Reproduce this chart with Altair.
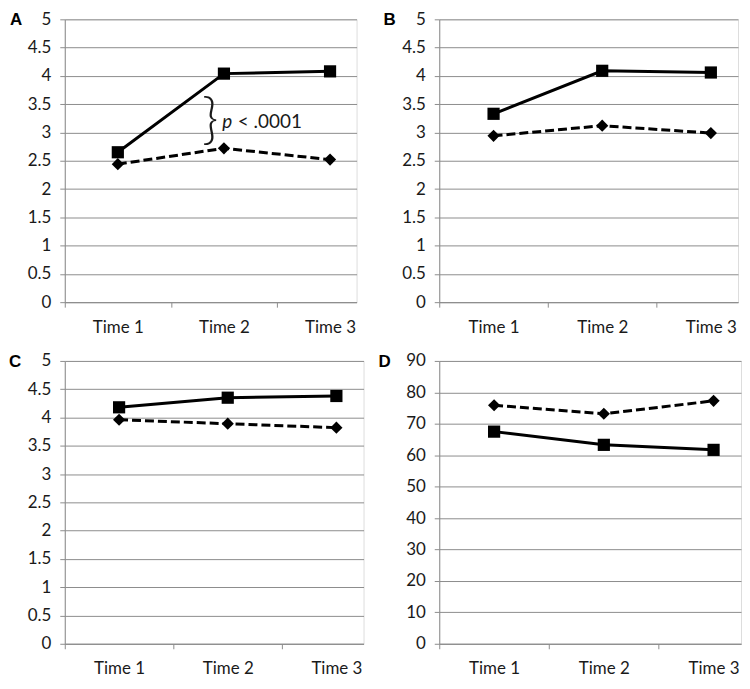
import altair as alt
import pandas as pd

# ---- data ----
times = [1, 2, 3]  # Time 1, Time 2, Time 3

A_square = [2.65, 4.04, 4.08]
A_diamond = [2.44, 2.72, 2.52]
B_square = [3.33, 4.09, 4.06]
B_diamond = [2.94, 3.12, 2.99]
C_square = [4.18, 4.35, 4.38]
C_diamond = [3.96, 3.89, 3.82]
D_square = [67.5, 63.3, 61.7]
D_diamond = [75.9, 73.2, 77.3]

ticks_5 = [0, 0.5, 1, 1.5, 2, 2.5, 3, 3.5, 4, 4.5, 5]
ticks_90 = [0, 10, 20, 30, 40, 50, 60, 70, 80, 90]
x_tick_pos = [0.5, 1.5, 2.5]

# annotation in panel A
annot_brace = {"x": 1.87, "y": 3.21, "t": "}"}
annot_p = {"x": 1.985, "y": 3.19, "t": "p"}
annot_rest = {"x": 2.13, "y": 3.19, "t": "< .0001"}

GRAY = "#8c8c8c"
TXT = "#1a1a1a"
FONT = "Lato"
XMAX = 3.25


def panel(letter, letter_dx, sq, di, ymax, yticks, width, height, annot=False):
    df = pd.DataFrame({
        "x": times * 2,
        "y": sq + di,
        "series": ["square"] * 3 + ["diamond"] * 3,
    })
    band = width / (XMAX - 0.5)
    xscale = alt.Scale(domain=[0.5, XMAX], nice=False, zero=False)
    yscale = alt.Scale(domain=[0, ymax], nice=False, zero=True)
    xaxis = alt.Axis(
        values=x_tick_pos,
        labelExpr="'Time ' + (datum.value + 0.5)",
        labelOffset=band / 2,
        labelFlush=False,
        labelOverlap=False,
        tickSize=5,
        tickColor=GRAY,
        domainColor=GRAY,
        grid=False,
        title=None,
        labelFont=FONT,
        labelFontSize=17,
        labelColor=TXT,
        labelPadding=12,
    )
    yaxis = alt.Axis(
        values=yticks,
        format="~f",
        tickSize=5,
        tickColor=GRAY,
        domainColor=GRAY,
        grid=True,
        gridColor=GRAY,
        gridWidth=1,
        title=None,
        labelFont=FONT,
        labelFontSize=17,
        labelColor=TXT,
        labelPadding=9,
        labelFlush=False,
        labelOverlap=False,
    )
    X = alt.X("x:Q", scale=xscale, axis=xaxis)
    Y = alt.Y("y:Q", scale=yscale, axis=yaxis)
    base = alt.Chart(df).encode(x=X, y=Y)
    solid = base.transform_filter(alt.datum.series == "square").mark_line(
        color="black", strokeWidth=3
    )
    dashed = base.transform_filter(alt.datum.series == "diamond").mark_line(
        color="black", strokeWidth=3, strokeDash=[9, 4]
    )
    squares = base.transform_filter(alt.datum.series == "square").mark_point(
        shape="square", filled=True, color="black", opacity=1, size=150
    )
    diamonds = base.transform_filter(alt.datum.series == "diamond").mark_point(
        shape="diamond", filled=True, color="black", opacity=1, size=150
    )
    lab = alt.Chart(pd.DataFrame({"t": [letter]})).mark_text(
        align="left", baseline="middle", font="Liberation Sans",
        fontWeight="bold", fontSize=17, color="black"
    ).encode(text="t:N", x=alt.value(letter_dx), y=alt.value(1))
    layers = [solid, dashed, squares, diamonds, lab]
    if annot:
        brace = alt.Chart(pd.DataFrame([annot_brace])).mark_text(
            align="center", baseline="middle", font=FONT, fontWeight=300,
            fontSize=56, color=TXT
        ).encode(x=X, y=Y, text="t:N")
        ptxt = alt.Chart(pd.DataFrame([annot_p])).mark_text(
            align="left", baseline="middle", font=FONT, fontStyle="italic",
            fontSize=19, color=TXT
        ).encode(x=X, y=Y, text="t:N")
        rest = alt.Chart(pd.DataFrame([annot_rest])).mark_text(
            align="left", baseline="middle", font=FONT,
            fontSize=19, color=TXT
        ).encode(x=X, y=Y, text="t:N")
        layers += [brace, ptxt, rest]
    return alt.layer(*layers).properties(width=width, height=height)


H = 284
pA = panel("A", -55, A_square, A_diamond, 5, ticks_5, 293, H, annot=True)
pB = panel("B", -56, B_square, B_diamond, 5, ticks_5, 300, H)
pC = panel("C", -56, C_square, C_diamond, 5, ticks_5, 300, H)
pD = panel("D", -61, D_square, D_diamond, 90, ticks_90, 303, H)

chart = alt.concat(
    pA, pB, pC, pD, columns=2,
    spacing={"row": 59, "column": 76},
    bounds="flush", align="none",
).properties(padding=0).configure_view(stroke=None).configure(background="white")

chart.save("out.html", embed_options={"renderer": "svg", "actions": False})
